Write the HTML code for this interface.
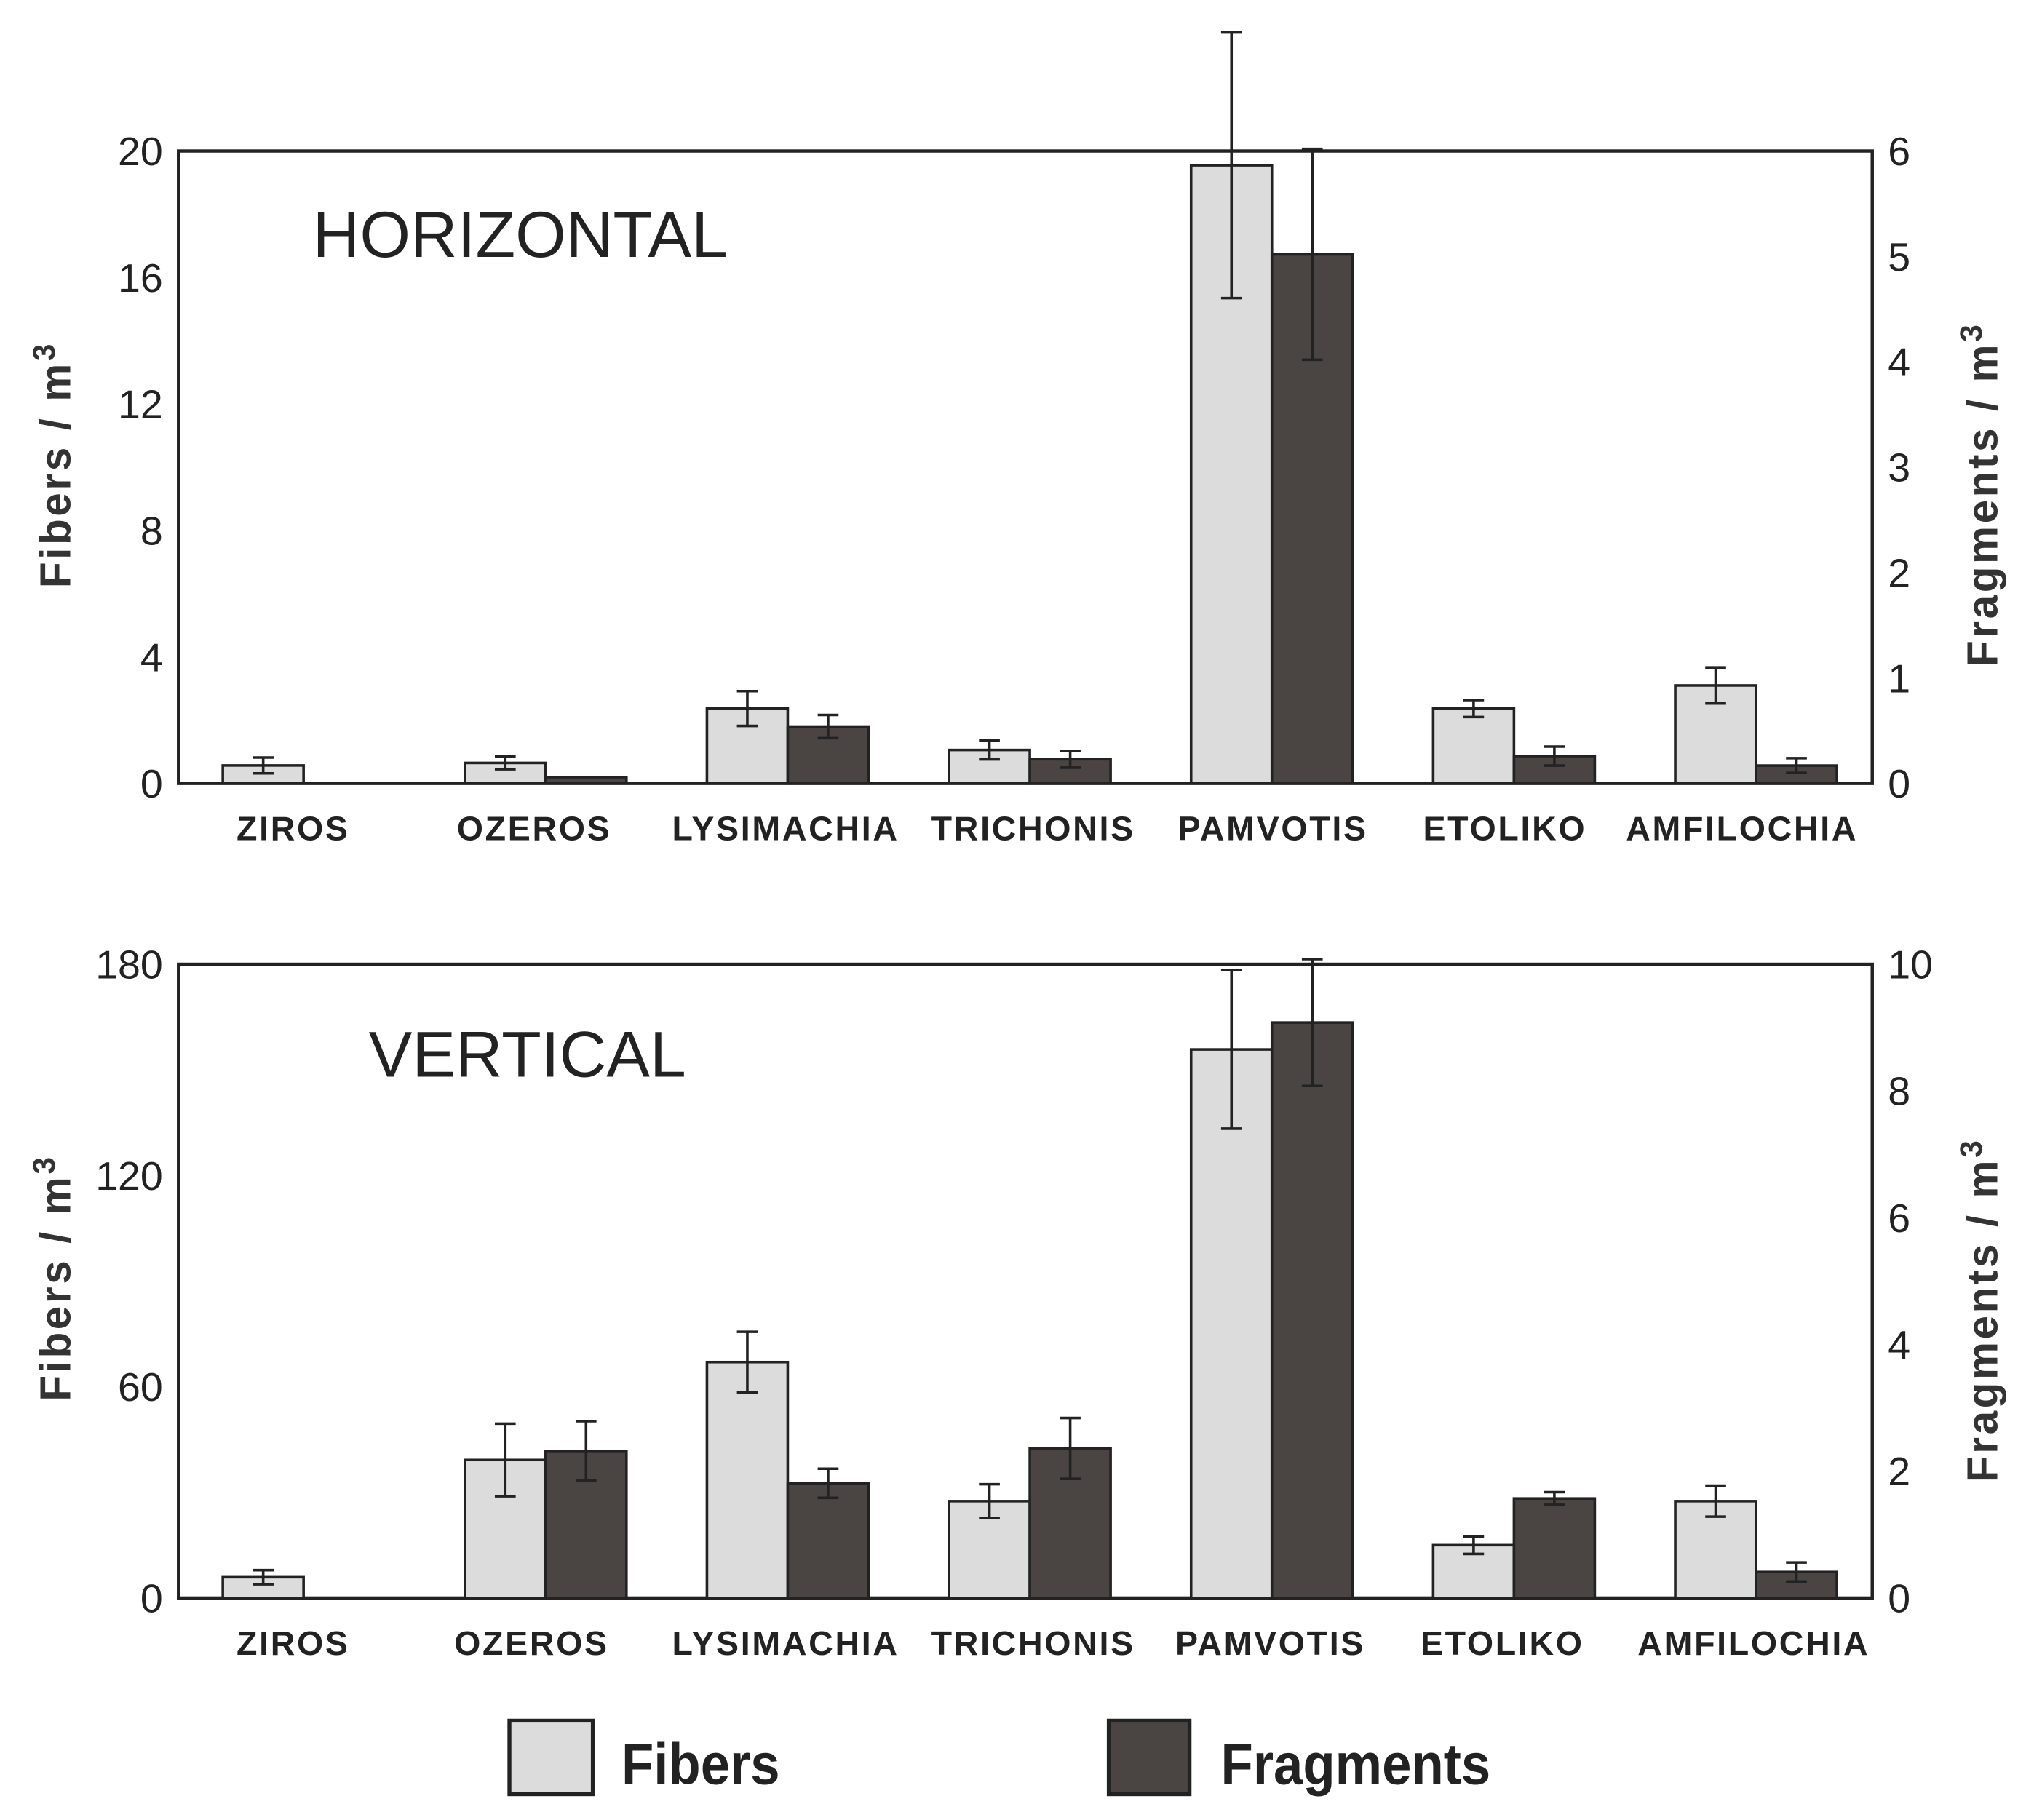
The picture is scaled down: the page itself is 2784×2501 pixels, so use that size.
<!DOCTYPE html>
<html><head><meta charset="utf-8"><style>
html,body{margin:0;padding:0;background:#fff}
svg{display:block}
text{font-family:"Liberation Sans",sans-serif}
</style></head><body>
<svg id="chart" width="2784" height="2501" viewBox="0 0 1555 1410" preserveAspectRatio="none" xmlns="http://www.w3.org/2000/svg">
<g id="top"></g>
<g id="bot"></g>
<g>
<rect x="391" y="1333" width="64" height="57" fill="#dcdcdc" stroke="#222" stroke-width="3"/>
<text x="477" y="1382" font-size="45" font-weight="bold" fill="#222" transform="translate(477,0) scale(0.9,1) translate(-477,0)">Fibers</text>
<rect x="851" y="1333" width="62" height="57" fill="#4a4542" stroke="#222" stroke-width="3"/>
<text x="937" y="1382" font-size="45" font-weight="bold" fill="#222" transform="translate(937,0) scale(0.9,1) translate(-937,0)">Fragments</text>
</g>
</svg>
<script>
const categories = ["ZIROS","OZEROS","LYSIMACHIA","TRICHONIS","PAMVOTIS","ETOLIKO","AMFILOCHIA"];
const hFibers = [0.57,0.65,2.37,1.06,19.55,2.37,3.1];
const hFibersErr = [0.25,0.2,0.55,0.3,4.2,0.27,0.57];
const hFragments = [0,0.06,0.54,0.23,5.02,0.26,0.17];
const hFragmentsErr = [0,0,0.11,0.08,1.0,0.09,0.07];
const hLeftTicks = [0,4,8,12,16,20];
const hRightTicks = [0,1,2,3,4,5,6];
const vFibers = [5.9,39.2,67,27.5,155.8,15,27.5];
const vFibersErr = [2,10.3,8.6,4.8,22.5,2.5,4.4];
const vFragments = [0,2.32,1.81,2.36,9.08,1.57,0.41];
const vFragmentsErr = [0,0.47,0.23,0.48,1.0,0.1,0.15];
const vLeftTicks = [0,60,120,180];
const vRightTicks = [0,2,4,6,8,10];

const NS="http://www.w3.org/2000/svg";
function mk(parent,tag,attrs,text){const e=document.createElementNS(NS,tag);for(const k in attrs)e.setAttribute(k,attrs[k]);if(text!==undefined)e.textContent=text;parent.appendChild(e);return e;}

function panel(g,cfg){
  const L=137,R=1437,T=cfg.top,B=cfg.bottom;
  const yl=v=>B-(v/cfg.lmax)*(B-T);
  const yr=v=>B-(v/cfg.rmax)*(B-T);
  const step=185.8, start=233, bw=62;
  const fr=mk(g,'rect',{x:L,y:T,width:R-L,height:B-T,fill:'none',stroke:'#222','stroke-width':2.5});
  
  
  cfg.lt.forEach(t=>{
    const e=mk(g,'text',{x:L-12,y:yl(t)+11,'font-size':31,'text-anchor':'end',fill:'#222'},String(t));
    
    
  });
  cfg.rt.forEach(t=>{
    const e=mk(g,'text',{x:R+12,y:yr(t)+11,'font-size':31,'text-anchor':'start',fill:'#222'},String(t));
    
    
  });
  categories.forEach((c,i)=>{
    const cx=start+i*step;
    const f=cfg.f[i], fe=cfg.fe[i], d=cfg.d[i], de=cfg.de[i];
    const b1=mk(g,'rect',{x:cx-bw,y:yl(f),width:bw,height:B-yl(f),fill:'#dcdcdc',stroke:'#222','stroke-width':2});
    
    
    if(fe>0){const ex=cx-bw/2;
      const e=mk(g,'path',{d:`M${ex-8},${yl(f+fe)}H${ex+8}M${ex},${yl(f+fe)}V${yl(f-fe)}M${ex-8},${yl(f-fe)}H${ex+8}`,stroke:'#222','stroke-width':2,fill:'none'});
      
      }
    if(d>0){
      const b2=mk(g,'rect',{x:cx,y:yr(d),width:bw,height:B-yr(d),fill:'#4a4542',stroke:'#222','stroke-width':2});
      
      
      if(de>0){const ex=cx+bw/2;
        const e=mk(g,'path',{d:`M${ex-8},${yr(d+de)}H${ex+8}M${ex},${yr(d+de)}V${yr(d-de)}M${ex-8},${yr(d-de)}H${ex+8}`,stroke:'#222','stroke-width':2,fill:'none'});
        
        }
    }
    const lx=cfg.labelX[i];
    const t=mk(g,'text',{x:lx,y:B+44,'font-size':26,'font-weight':'bold','text-anchor':'middle',fill:'#222','letter-spacing':1.5},c);
    
    
  });
  const a=mk(g,'text',{x:0,y:0,'font-size':33,'text-anchor':'middle',fill:'#333','letter-spacing':2,'font-weight':'bold',transform:`translate(54,${cfg.ltY}) rotate(-90)`});
  a.innerHTML='Fibers / m<tspan dy="-12" font-size="24">3</tspan>';
  
  
  const b=mk(g,'text',{x:0,y:0,'font-size':33,'text-anchor':'middle',fill:'#333','letter-spacing':2,'font-weight':'bold',transform:`translate(1533,${cfg.rtY}) rotate(-90)`});
  b.innerHTML='Fragments / m<tspan dy="-12" font-size="24">3</tspan>';
  
  
  const ti=mk(g,'text',{x:cfg.titleX,y:cfg.titleY,'font-size':50,fill:'#222'},cfg.title);
  
  
}
panel(document.getElementById('top'),{top:117,bottom:607,lmax:20,rmax:6,lt:hLeftTicks,rt:hRightTicks,f:hFibers,fe:hFibersErr,d:hFragments,de:hFragmentsErr,
  labelX:[225,410,603,793,977,1155,1337],ltY:360,rtY:383,title:'HORIZONTAL',titleX:240,titleY:199});
panel(document.getElementById('bot'),{top:747,bottom:1238,lmax:180,rmax:10,lt:vLeftTicks,rt:vRightTicks,f:vFibers,fe:vFibersErr,d:vFragments,de:vFragmentsErr,
  labelX:[225,408,603,793,975,1153,1346],ltY:990,rtY:1015,title:'VERTICAL',titleX:283,titleY:834});
</script>
</body></html>
